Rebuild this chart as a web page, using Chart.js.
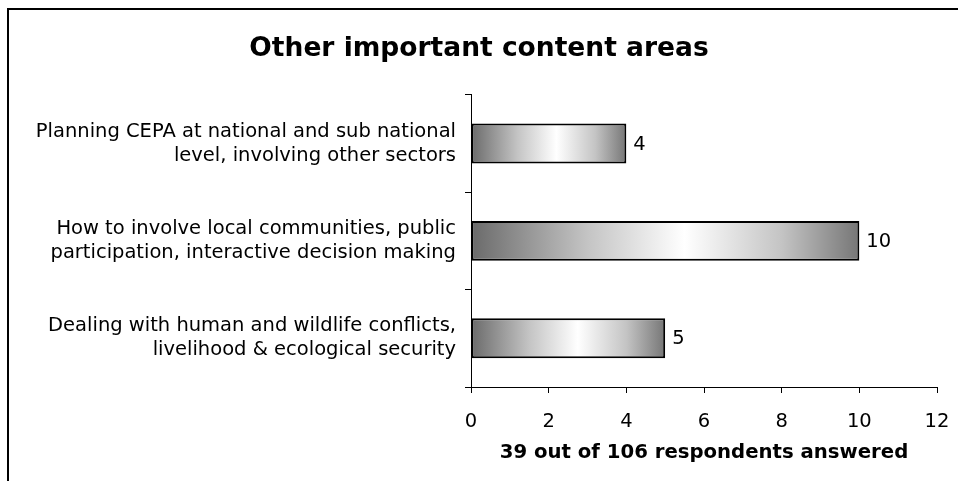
<!DOCTYPE html>
<html>
<head>
<meta charset="utf-8">
<script src="https://cdn.jsdelivr.net/npm/chart.js@4/dist/chart.umd.min.js"></script>
<style>
    html, body { margin: 0; padding: 0; background: #fff; }
    .chart-wrap { position: relative; width: 958px; height: 481px; overflow: hidden; }
    .frame { position: absolute; left: 7px; top: 8px; width: 1000px; height: 600px; border: 2px solid #000; }
    canvas { position: absolute; left: 0; top: 0; }
</style>
</head>
<body>
<div class="chart-wrap">
    <div class="frame"></div>
    <canvas id="contentAreasChart" width="958" height="481"></canvas>
</div>
<script>
const categories = [
    ['Planning CEPA at national and sub national', 'level, involving other sectors'],
    ['How to involve local communities, public', 'participation, interactive decision making'],
    ['Dealing with human and wildlife conflicts,', 'livelihood & ecological security']
];
const responses = [4, 10, 5];
const xTicks = [0, 2, 4, 6, 8, 10, 12];

document.addEventListener('DOMContentLoaded', function () {
    const fontFamily = "'DejaVu Sans', Verdana, sans-serif";

    function barGradient(context) {
        const chart = context.chart;
        const area = chart.chartArea;
        if (!area || context.type !== 'data') {
            return '#aaa';
        }
        const xScale = chart.scales.x;
        const x0 = xScale.getPixelForValue(0);
        const x1 = xScale.getPixelForValue(context.raw);
        const gradient = chart.ctx.createLinearGradient(x0, 0, x1, 0);
        gradient.addColorStop(0, '#6a6a6a');
        gradient.addColorStop(0.3, '#c4c4c4');
        gradient.addColorStop(0.55, '#ffffff');
        gradient.addColorStop(0.8, '#c4c4c4');
        gradient.addColorStop(1, '#767676');
        return gradient;
    }

    const valueLabels = {
        id: 'valueLabels',
        afterDatasetsDraw: function (chart) {
            const ctx = chart.ctx;
            const meta = chart.getDatasetMeta(0);
            ctx.save();
            ctx.font = '19.5px ' + fontFamily;
            ctx.fillStyle = '#000';
            ctx.textAlign = 'left';
            ctx.textBaseline = 'middle';
            meta.data.forEach(function (bar, i) {
                ctx.fillText(String(responses[i]), bar.x + 7, bar.y + 1);
            });
            ctx.restore();
        }
    };

    new Chart(document.getElementById('contentAreasChart'), {
        type: 'bar',
        data: {
            labels: categories,
            datasets: [{
                data: responses,
                backgroundColor: barGradient,
                borderColor: '#000',
                borderWidth: 2,
                borderSkipped: false,
                barPercentage: 0.41,
                categoryPercentage: 1
            }]
        },
        options: {
            indexAxis: 'y',
            responsive: false,
            animation: false,
            layout: {
                padding: { top: 0, right: 0, bottom: 16, left: 0 }
            },
            plugins: {
                legend: { display: false },
                tooltip: { enabled: false },
                title: {
                    display: true,
                    text: 'Other important content areas',
                    color: '#000',
                    font: { family: fontFamily, size: 26.5, weight: 'bold' },
                    padding: { top: 33, bottom: 30 }
                }
            },
            scales: {
                x: {
                    min: 0,
                    max: 12,
                    afterBuildTicks: function (scale) {
                        scale.ticks = xTicks.map(function (v) { return { value: v }; });
                    },
                    afterFit: function (scale) {
                        scale.height = 78;
                        scale.paddingLeft = 0;
                        scale.paddingRight = 21;
                    },
                    grid: {
                        drawOnChartArea: false,
                        tickLength: 6,
                        color: '#000'
                    },
                    border: { color: '#000', width: 1 },
                    ticks: {
                        color: '#000',
                        padding: 17,
                        font: { family: fontFamily, size: 19.5 }
                    },
                    title: {
                        display: true,
                        text: '39 out of 106 respondents answered',
                        color: '#000',
                        font: { family: fontFamily, size: 19.7, weight: 'bold' },
                        padding: { top: 10, bottom: 0 }
                    }
                },
                y: {
                    afterFit: function (scale) {
                        scale.width = 471;
                        scale.paddingTop = 0;
                        scale.paddingBottom = 0;
                    },
                    grid: {
                        drawOnChartArea: false,
                        offset: true,
                        tickLength: 6,
                        color: '#000'
                    },
                    border: { color: '#000', width: 1 },
                    ticks: {
                        color: '#000',
                        padding: 9,
                        font: { family: fontFamily, size: 19.5, lineHeight: 1.23 }
                    }
                }
            }
        },
        plugins: [valueLabels]
    });
});
</script>
</body>
</html>
